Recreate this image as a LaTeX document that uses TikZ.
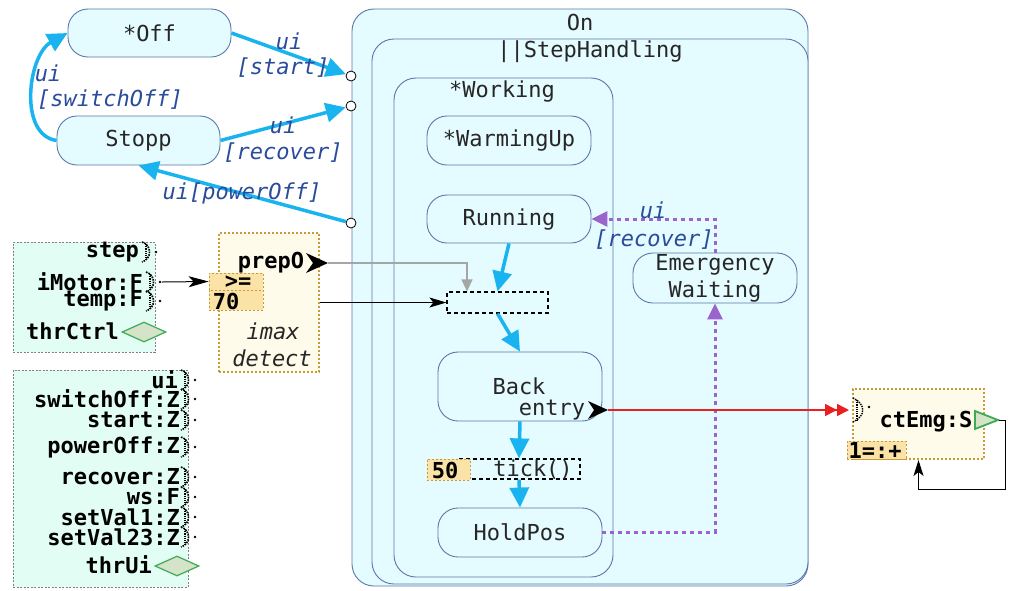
\documentclass[tikz,border=0pt]{standalone}
\usepackage{fontspec}
\newfontfamily\dmono{DejaVu Sans Mono}
\newcommand\dgmfont{\dmono\fontsize{22}{24}\selectfont}
\usetikzlibrary{arrows.meta,shapes.geometric,calc}
\definecolor{stfill}{HTML}{E4FBFF}
\definecolor{stdraw}{HTML}{5A78A8}
\definecolor{flow}{HTML}{19B4F0}
\definecolor{lbl}{HTML}{2A4C9C}
\definecolor{emg}{HTML}{9B63D0}
\definecolor{modfill}{HTML}{E2FDF3}
\definecolor{fbfill}{HTML}{FFFBEA}
\definecolor{fbdraw}{HTML}{C89A3C}
\definecolor{valfill}{HTML}{FBE3A8}
\definecolor{dmfill}{HTML}{D5E3C8}
\definecolor{dmdraw}{HTML}{3DAA55}
\definecolor{sigred}{HTML}{E82020}
\tikzset{
  every node/.style={font=\dgmfont, text=black!85, inner sep=0pt},
  state/.style={draw=stdraw, fill=stfill, rounded corners=20pt, line width=0.9pt},
  region/.style={draw=stdraw, fill=stfill, rounded corners=22pt, line width=0.9pt},
  conn/.style={draw=black, fill=white, circle, line width=0.8pt, minimum size=10pt},
  trans/.style={draw=flow, line width=3.5pt, -{Triangle[length=20pt,width=19pt]}},
  emgtrans/.style={draw=emg, line width=3pt, dash pattern=on 4pt off 4pt, -{Triangle[length=16pt,width=15pt]}},
  tlabel/.style={font=\dgmfont\itshape, text=lbl},
  portname/.style={font=\dgmfont\bfseries, text=black, anchor=east},
  module/.style={draw=gray, fill=modfill, dash pattern=on 2pt off 1.5pt, line width=0.7pt},
  fblock/.style={draw=fbdraw, fill=fbfill, line width=2pt, dash pattern=on 2pt off 2pt},
  valbox/.style={draw=fbdraw, fill=valfill, line width=0.8pt, dash pattern=on 2pt off 2pt, font=\dgmfont\bfseries, text=black},
  junction/.style={draw=black, line width=1.2pt, dash pattern=on 4pt off 3pt},
  sigline/.style={draw=black, line width=1pt, -{Stealth[length=20pt,width=11pt,inset=5pt]}},
  grayline/.style={draw=gray!70, line width=1.5pt, -{Triangle[length=12pt,width=11pt]}},
  redline/.style={draw=sigred, line width=1.5pt, -{Triangle[length=12pt,width=12pt] Triangle[length=12pt,width=12pt]}},
  thrdiamond/.style={diamond, draw=dmdraw, fill=dmfill, line width=1.2pt, minimum width=44pt, minimum height=20pt},
  port/.pic={
    \draw[densely dotted, line width=1.6pt] (0,-10) .. controls (10,-7) and (10,7) .. (0,10);
    \draw[densely dotted, line width=1.2pt] (4,-8) -- (4,8);
    \fill (14,0) circle (1.4pt);
  },
}
\begin{document}
\begin{tikzpicture}[x=1pt,y=-1pt]
\useasboundingbox (0,0) rectangle (1011,590);
\fill[white] (0,0) rectangle (1011,590);

% ---------- composite states ----------
\node[region, minimum width=456pt, minimum height=577pt] (on) at (580,297.5) {};
\node (ontitle) at (580,22) {On};
\node[region, minimum width=436pt, minimum height=545pt] (sh) at (590,311.5) {};
\node (shtitle) at (590,52) {||StepHandling};
\node[region, minimum width=219pt, minimum height=499pt] (working) at (503.5,327.5) {};
\node (worktitle) at (502,92) {*Working};

% ---------- simple states ----------
\node[state, minimum width=163pt, minimum height=48pt] (off) at (149.5,33) {*Off};
\node[state, minimum width=163pt, minimum height=49pt] (stopp) at (138.5,140.5) {Stopp};
\node[state, minimum width=164pt, minimum height=49pt] (warm) at (509,140.5) {*WarmingUp};
\node[state, minimum width=164pt, minimum height=48pt] (running) at (509,219) {Running};
\node[state, minimum width=164pt, minimum height=69pt] (back) at (520,386.5) {};
\node (backname) at (519,386) {Back};
\node (entry) at (552,410) {entry};
\node[state, minimum width=164pt, minimum height=50pt, align=center] (emw) at (715,278) {Emergency\\[3pt]Waiting};
\node[state, minimum width=164pt, minimum height=49pt] (hold) at (520,532.5) {HoldPos};

% ---------- junction and tick ----------
\node[junction, minimum width=101pt, minimum height=21pt] (junc) at (497.5,302.5) {};
\node[junction, minimum width=122pt, minimum height=20pt] (tick) at (519,469) {};
\node (tickname) at (533,470) {tick()};
\node[valbox, minimum width=43pt, minimum height=21pt] (fifty) at (448.5,469.5) {};
\node[font=\dgmfont\bfseries, text=black] (fiftytext) at (445,470) {50};

% ---------- connection points on On ----------
\node[conn] (c1) at (351,76) {};
\node[conn] (c2) at (351,106) {};
\node[conn] (c3) at (351,223) {};

% ---------- outer transitions ----------
\draw[trans] (off.east) -- (c1);
\draw[trans] (stopp.east) -- (c2);
\draw[trans] (c3) -- (stopp.south);
\draw[trans] (stopp.west) .. controls (18,135) and (28,55) .. (off.west);
\node[tlabel] (l1a) at (289,41) {ui};
\node[tlabel] (l1b) at (283,68) {[start]};
\node[tlabel] (l2a) at (283,125) {ui};
\node[tlabel] (l2b) at (283,153) {[recover]};
\node[tlabel] (l3) at (242,193) {ui[powerOff]};
\node[tlabel] (l4a) at (48,73) {ui};
\node[tlabel] (l4b) at (110,100) {[switchOff]};

% ---------- inner transitions ----------
\draw[trans] (running.south) -- (junc.north);
\draw[trans] (junc.south) -- (back.north);
\draw[trans] (back.south) -- (tick.north);
\draw[trans] (tick.south) -- (hold.north);
\draw[emgtrans] (hold.east) -| (emw.south);
\draw[emgtrans] (emw.north) |- (running.east);
\node[tlabel] (l5a) at (653,210) {ui};
\node[tlabel] (l5b) at (654,240) {[recover]};

% ---------- thrCtrl module ----------
\node[module, minimum width=142pt, minimum height=110pt] (thrctrl) at (84,297) {};
\node[portname] (pstep) at (139,252) {step};
\node[portname] (pimotor) at (143,282) {iMotor:F};
\node[portname] (ptemp) at (143,301) {temp:F};
\node[portname] (pthrctrl) at (119,331) {thrCtrl};
\node[thrdiamond] (dctrl) at (144,332) {};
\pic at (142,252) {port};
\pic at (146,282) {port};
\pic at (146,301) {port};
\coordinate (imotorout) at (162,282);

% ---------- imax detect block ----------
\node[fblock, minimum width=100pt, minimum height=139pt] (imax) at (269,302.5) {};
\node[font=\dgmfont\bfseries, text=black] (prep) at (271,263) {prepO};
\fill (306,253) -- (328,263) -- (306,273) -- (313,263) -- cycle;
\coordinate (prepout) at (328,263);
\node[valbox, minimum width=54pt, minimum height=17pt] (ge) at (236,281.5) {};
\node[font=\dgmfont\bfseries, text=black] (getext) at (238,282) {>=};
\node[valbox, minimum width=54pt, minimum height=20pt] (seventy) at (236,300) {};
\node[font=\dgmfont\bfseries, text=black] (seventytext) at (226,301) {70};
\node[tlabel, text=black!85] (imaxa) at (273,331) {imax};
\node[tlabel, text=black!85] (imaxb) at (272,358) {detect};

\draw[sigline] (imotorout) -- (ge.west);
\draw[grayline] (prepout) -| ([xshift=-30.5pt]junc.north);
\draw[sigline, -{Stealth[length=17pt,width=10pt,inset=4pt]}] (imax.east |- junc.west) -- (junc.west);

% ---------- thrUi module ----------
\node[module, minimum width=175pt, minimum height=217pt] (thrui) at (100.5,478.5) {};
\node[portname] (pui) at (178,380) {ui};
\node[portname] (psw) at (180,399) {switchOff:Z};
\node[portname] (pstart) at (180,420) {start:Z};
\node[portname] (ppow) at (180,447) {powerOff:Z};
\node[portname] (prec) at (180,477) {recover:Z};
\node[portname] (pws) at (180,497) {ws:F};
\node[portname] (psv1) at (180,517) {setVal1:Z};
\node[portname] (psv23) at (180,537) {setVal23:Z};
\node[portname] (pthrui) at (152,565) {thrUi};
\node[thrdiamond] (dui) at (177,566) {};
\foreach \yy in {380,399,420,447,477,497,517,537} {
  \pic at (181,\yy) {port};
}

% ---------- ctEmg block ----------
\node[fblock, minimum width=131pt, minimum height=70pt] (ctemg) at (918.5,424) {};
\node[font=\dgmfont\bfseries, text=black] (ctname) at (926,422) {ctEmg:S};
\node[valbox, minimum width=59pt, minimum height=18pt] (one) at (876.5,450) {};
\node[font=\dgmfont\bfseries, text=black] (onetext) at (875,450) {1=:+};
\draw[dmdraw, fill=dmfill, line width=1.8pt, line join=miter] (975,411) -- (998,420) -- (975,429) -- cycle;
\coordinate (ctout) at (999,420);
\draw[densely dotted, line width=1.4pt] (853,398) .. controls (866,404) and (866,416) .. (853,422);
\draw[densely dotted, line width=1.2pt] (857,400) -- (857,420);
\fill (869,407) circle (1.3pt);
\coordinate (ctin) at (849,410);

% ---------- entry action output ----------
\fill (588,401) -- (608,410) -- (588,419) -- (594,410) -- cycle;
\coordinate (entryout) at (608,410);
\draw[redline] (entryout) -- (ctin);
\draw[sigline, -{Stealth[length=16pt,width=10pt,inset=4pt]}] (ctout) -- ++(6,0) |- ([yshift=-29pt]ctemg.south) -- (ctemg.south);
\end{tikzpicture}
\end{document}
